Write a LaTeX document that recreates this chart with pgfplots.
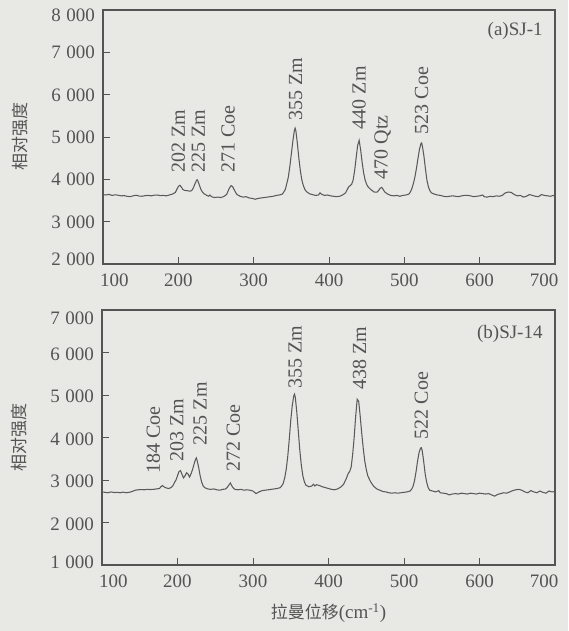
\documentclass[border=0pt]{standalone}
\usepackage{fontspec}
\setmainfont{Liberation Serif}
\newfontfamily\cjk{Noto Sans CJK SC}
\usepackage{pgfplots}
\pgfplotsset{compat=1.18}
\usetikzlibrary{backgrounds}

\definecolor{bg}{RGB}{232,232,229}
\definecolor{ink}{RGB}{84,84,84}
\definecolor{spec}{RGB}{90,90,90}

% y tick label, moved by #1 (its baseline from the tick)
\newcommand{\yl}[2]{\raisebox{#1}[0pt][0pt]{#2}}
\newcommand{\ks}{\hspace{0.28em}}

\pgfplotsset{
  panel/.style={
    scale only axis, width=452pt, height=254pt,
    xmin=100, xmax=700, xtick={100,200,...,700},
    xticklabels={\hspace*{23pt}100,200,300,400,500,600,700\hspace*{22pt}},
    tick pos=left, major tick length=7pt,
    tick style={ink, line width=0.9pt},
    axis line style={ink, line width=1.1pt},
    tick label style={font=\fontsize{19}{22}\selectfont, text=ink},
    xticklabel style={yshift=-6.5pt},
    yticklabel style={inner sep=0pt, xshift=-8pt},
    every axis y label/.style={at={(axis description cs:-0.184,0.5)}, rotate=90,
      anchor=center, font=\fontsize{17}{19}\selectfont\cjk, text=ink},
  },
}
\tikzset{
  ann/.style={rotate=90, anchor=west, inner sep=0pt, text=ink,
    font=\fontsize{20}{22}\selectfont},
}

\begin{document}
\begin{tikzpicture}
\useasboundingbox (-103pt,-367pt) rectangle (465pt,264pt);

% (a) SJ-1
\begin{axis}[panel, at={(0pt,0pt)}, anchor=south west,
  ymin=2000, ymax=8000, ytick={2000,3000,...,8000},
  yticklabels={\yl{-2pt}{2\ks000},\yl{-6.4pt}{3\ks000},\yl{-6.4pt}{4\ks000},\yl{-6.4pt}{5\ks000},\yl{-6.4pt}{6\ks000},\yl{-6.4pt}{7\ks000},\yl{-12pt}{8\ks000}},
  ylabel={相对强度}]
\addplot[spec, line width=1.05pt] table {
x y
100 3640
104 3630
108 3645
112 3620
116 3635
120 3625
124 3610
128 3615
132 3600
136 3590
140 3610
144 3625
148 3605
152 3600
156 3615
160 3620
164 3610
168 3625
172 3630
176 3615
180 3620
184 3610
188 3630
192 3650
196 3690
198 3760
200 3830
202 3860
204 3820
206 3760
208 3740
212 3730
216 3720
218 3740
220 3800
222 3890
224 3970
225 3990
226 3960
228 3860
230 3760
232 3700
234 3660
236 3640
240 3600
242 3630
244 3590
248 3570
252 3580
256 3570
260 3590
264 3640
266 3720
268 3800
270 3850
272 3830
274 3760
276 3690
278 3640
282 3600
286 3580
290 3590
294 3560
298 3550
302 3530
306 3550
310 3560
314 3570
318 3580
322 3590
326 3600
330 3620
334 3630
338 3650
340 3700
342 3760
344 3900
346 4050
348 4300
350 4600
352 4900
354 5150
355 5210
356 5150
358 4850
360 4500
362 4200
364 3980
366 3850
368 3760
370 3710
374 3660
378 3640
382 3620
386 3630
388 3680
390 3650
394 3620
398 3630
402 3610
406 3600
410 3590
414 3600
418 3630
422 3680
424 3750
426 3820
428 3850
430 3880
432 3980
434 4200
436 4500
438 4800
440 4920
442 4700
444 4400
446 4150
448 3980
450 3880
452 3820
456 3750
460 3700
464 3700
466 3740
468 3790
470 3810
472 3760
474 3700
478 3650
482 3620
486 3610
490 3620
494 3600
498 3620
502 3630
506 3650
508 3700
510 3780
512 3900
514 4050
516 4250
518 4480
520 4700
522 4840
523 4860
524 4780
526 4550
528 4250
530 3980
532 3820
534 3730
536 3680
540 3650
544 3630
548 3620
552 3600
556 3590
560 3600
564 3610
568 3600
572 3590
576 3610
580 3620
584 3620
588 3610
592 3590
596 3600
600 3610
604 3630
606 3590
610 3580
614 3600
618 3590
622 3610
626 3600
630 3620
634 3680
638 3700
642 3690
646 3640
650 3610
654 3620
658 3580
662 3600
666 3640
670 3620
674 3600
678 3590
682 3640
686 3620
690 3610
694 3600
698 3620
700 3610
};
\node[ann] at (axis cs:200,4160) {202 Zm};
\node[ann] at (axis cs:226.5,4160) {225 Zm};
\node[ann] at (axis cs:266,4160) {271 Coe};
\node[ann] at (axis cs:355.5,5380) {355 Zm};
\node[ann] at (axis cs:440,5180) {440 Zm};
\node[ann] at (axis cs:471,4000) {470 Qtz};
\node[ann] at (axis cs:523,5060) {523 Coe};
\node[anchor=north east, inner sep=0pt, text=ink, font=\fontsize{19}{22}\selectfont]
  at (axis description cs:0.973,0.953) {(a)SJ-1};
\end{axis}

% (b) SJ-14
\begin{axis}[panel, at={(-1pt,-301pt)}, anchor=south west, width=453pt, height=255pt,
  ymin=1000, ymax=7000, ytick={1000,2000,...,7000},
  yticklabels={\yl{-3pt}{1\ks000},\yl{-7.5pt}{2\ks000},\yl{-7.5pt}{3\ks000},\yl{-7.5pt}{4\ks000},\yl{-7.5pt}{5\ks000},\yl{-7.5pt}{6\ks000},\yl{-14pt}{7\ks000}},
  ylabel={相对强度},
  xlabel={{\fontsize{17}{19}\selectfont\cjk 拉曼位移}(cm\textsuperscript{-1})},
  every axis x label/.style={at={(axis description cs:0.5,-0.19)}, anchor=center,
    font=\fontsize{19}{22}\selectfont, text=ink}]
\addplot[spec, line width=1.05pt] table {
x y
100 2720
104 2710
108 2700
112 2720
116 2705
120 2710
124 2700
128 2715
132 2700
136 2710
140 2730
144 2760
148 2770
152 2775
156 2770
160 2780
164 2775
168 2780
172 2790
176 2800
178 2840
180 2870
182 2840
184 2820
186 2810
188 2800
190 2810
192 2830
194 2870
196 2940
198 3000
200 3100
202 3200
204 3220
206 3130
208 3050
210 3100
212 3170
214 3140
216 3070
218 3150
220 3250
222 3380
224 3490
225 3520
226 3460
228 3300
230 3100
232 2950
234 2860
236 2820
240 2790
244 2780
248 2790
252 2770
256 2760
260 2780
264 2790
266 2830
268 2880
270 2930
272 2860
274 2810
276 2780
280 2770
284 2780
288 2760
292 2770
296 2760
300 2740
304 2680
308 2720
312 2750
316 2760
320 2770
324 2780
328 2790
332 2800
336 2820
338 2860
340 2920
342 3050
344 3250
346 3550
348 3950
350 4400
352 4750
354 4980
355 5020
356 4950
358 4600
360 4150
362 3700
364 3350
366 3100
368 2960
370 2880
374 2840
378 2860
380 2900
382 2860
384 2890
388 2870
392 2840
396 2820
400 2800
404 2780
408 2770
412 2790
416 2830
420 2900
424 3050
426 3150
428 3200
430 3300
432 3600
434 4000
436 4500
438 4900
440 4850
442 4500
444 4100
446 3750
448 3450
450 3250
452 3100
456 2950
460 2850
464 2790
468 2760
472 2730
476 2720
480 2700
484 2690
488 2700
492 2690
496 2700
500 2710
504 2720
508 2740
510 2780
512 2850
514 2990
516 3200
518 3450
520 3650
522 3750
523 3760
524 3700
526 3450
528 3150
530 2950
532 2820
534 2760
538 2740
542 2720
546 2750
548 2700
552 2690
556 2680
560 2650
564 2670
568 2680
572 2670
576 2690
580 2680
584 2670
588 2690
592 2680
596 2670
600 2690
604 2680
608 2670
612 2680
616 2650
620 2620
624 2660
628 2680
632 2700
636 2690
640 2720
644 2750
648 2770
652 2780
656 2760
660 2720
664 2700
668 2750
672 2720
676 2700
680 2740
684 2710
688 2690
692 2740
696 2720
700 2730
};
\node[ann] at (axis cs:168,3150) {184 Coe};
\node[ann] at (axis cs:199,3420) {203 Zm};
\node[ann] at (axis cs:230,3815) {225 Zm};
\node[ann] at (axis cs:274,3190) {272 Coe};
\node[ann] at (axis cs:355.6,5155) {355 Zm};
\node[ann] at (axis cs:441,5115) {438 Zm};
\node[ann] at (axis cs:523,3960) {522 Coe};
\node[anchor=north east, inner sep=0pt, text=ink, font=\fontsize{19}{22}\selectfont]
  at (axis description cs:0.973,0.941) {(b)SJ-14};
\end{axis}

\begin{pgfonlayer}{background}
\fill[bg] (-103pt,-367pt) rectangle (465pt,264pt);
\end{pgfonlayer}
\end{tikzpicture}
\end{document}
